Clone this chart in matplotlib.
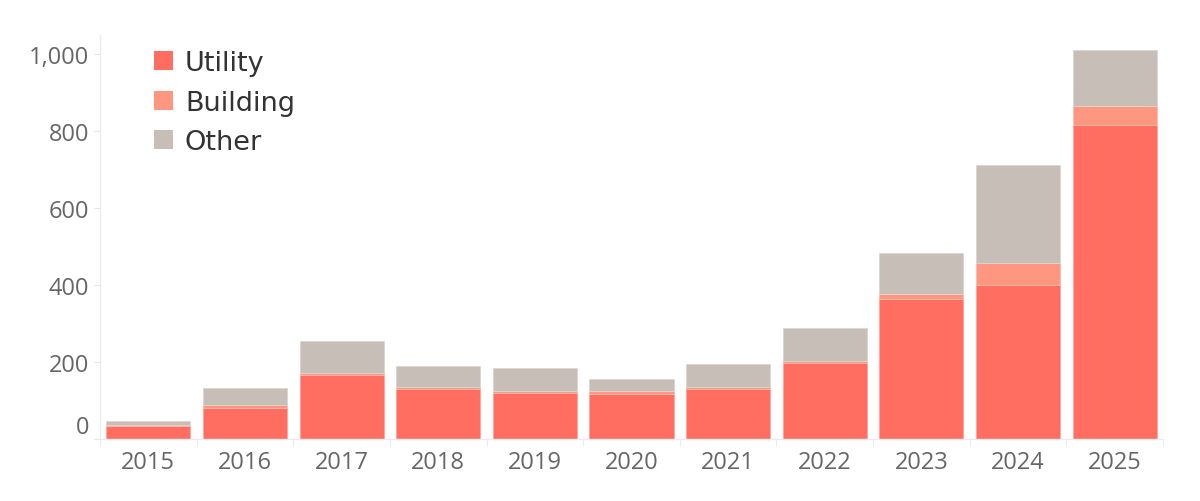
import matplotlib
matplotlib.use("Agg")
import matplotlib.pyplot as plt
import matplotlib.transforms as mtransforms
from matplotlib.patches import Rectangle
import numpy as np

years = ["2015", "2016", "2017", "2018", "2019", "2020", "2021", "2022", "2023", "2024", "2025"]
utility = [34, 80, 166, 129, 120, 118, 129, 198, 364, 399, 815]
building = [2, 9, 6, 7, 6, 6, 6, 5, 12, 58, 50]
other = [12, 43, 83, 53, 58, 33, 61, 85, 108, 255, 145]
series_names = ["Utility", "Building", "Other"]
colors = ["#FF6E60", "#FF9680", "#C7BEB8"]
yticks = [0, 200, 400, 600, 800, 1000]
ytick_labels = ["0", "200", "400", "600", "800", "1,000"]

plt.rcParams['font.family'] = ['Open Sans', 'DejaVu Sans']

W, H = 1200, 502
fig = plt.figure(figsize=(12, 5.02), dpi=100)
ax = fig.add_axes([100/W, (H-440)/H, 1063/W, 404/H])

x = np.arange(len(years))
u = np.array(utility); b = np.array(building); o = np.array(other)
w = 0.87
ax.bar(x, u, width=w, color=colors[0], edgecolor="#FFA59C", linewidth=0.6)
ax.bar(x, b, width=w, bottom=u, color=colors[1], edgecolor="#FFB9A9", linewidth=0.6)
ax.bar(x, o, width=w, bottom=u + b, color=colors[2], edgecolor="#DDD6D2", linewidth=0.6)

ax.set_xlim(-0.5, len(years) - 0.5)
ax.set_ylim(0, 1050)

for s in ["top", "right"]:
    ax.spines[s].set_visible(False)
for s in ["left", "bottom"]:
    ax.spines[s].set_color("#EBEBEB")
    ax.spines[s].set_linewidth(1)

ax.set_yticks(yticks)
ax.set_yticklabels(ytick_labels)
ax.tick_params(axis="y", length=4, color="#E6E6E6", labelcolor="#666666", labelsize=17, pad=4)
ax.set_xticks(x)
ax.set_xticklabels(years)
ax.tick_params(axis="x", which="major", length=0, labelcolor="#666666", labelsize=17, pad=8)
ax.set_xticks(np.arange(-0.5, len(years), 1), minor=True)
ax.tick_params(axis="x", which="minor", length=5, color="#E6E6E6")

# raise the "0" label as in the reference
lbl0 = ax.get_yticklabels()[0]
lbl0.set_transform(lbl0.get_transform() + mtransforms.ScaledTranslation(0, 15/100, fig.dpi_scale_trans))

# legend (manual placement)
row_y = [61, 101, 140]
for name, c, yy in zip(series_names, colors, row_y):
    fig.add_artist(Rectangle((154/W, (H - yy - 9.5)/H), 19/W, 19/H,
                             transform=fig.transFigure, facecolor=c, edgecolor="none"))
    fig.text(185/W, (H - yy)/H, name, ha="left", va="center_baseline",
             fontsize=19.5, color="#333333", family=["DejaVu Sans"])

fig.savefig("out.png", dpi=100)
